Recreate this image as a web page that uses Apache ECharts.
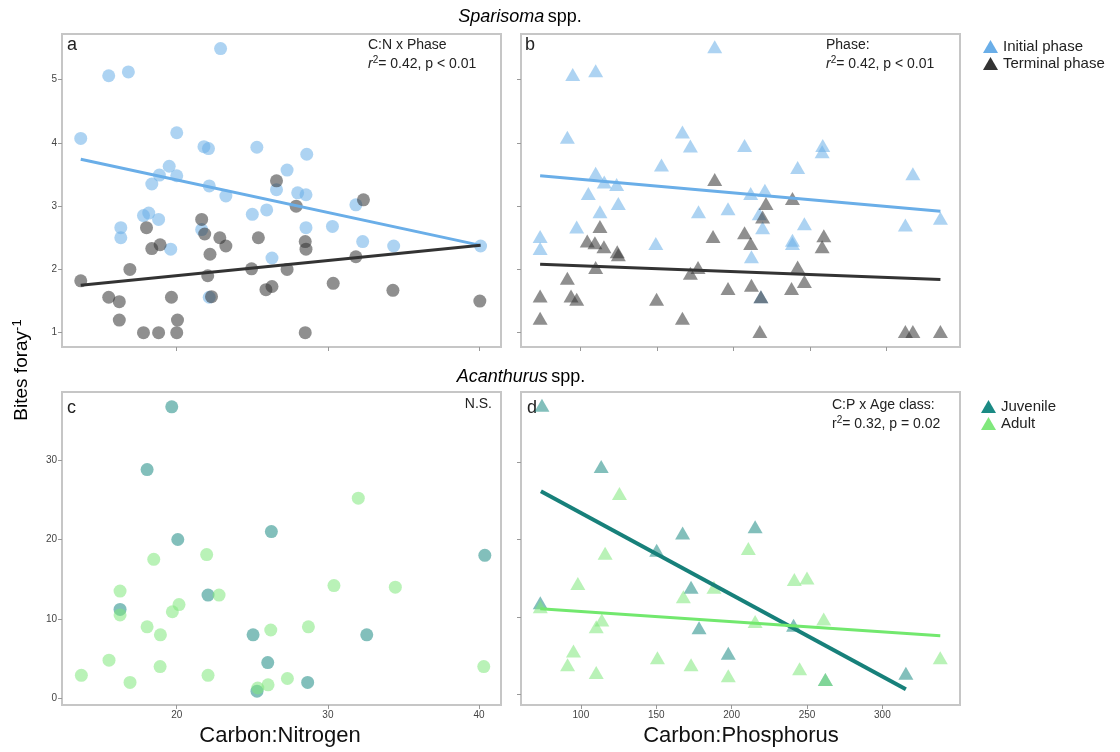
<!DOCTYPE html>
<html>
<head>
<meta charset="utf-8">
<script src="https://cdn.jsdelivr.net/npm/echarts@6/dist/echarts.min.js"></script>
<style>
html,body{margin:0;padding:0;background:#fff;}
#chart{width:1120px;height:752px;}
</style>
</head>
<body>
<div id="chart"></div>
<script>
// ---------- DATA ----------
// Panel a: Sparisoma, Carbon:Nitrogen vs bites per foray
const aInitial = [[22.9,5.49],[15.5,5.06],[16.8,5.12],[13.65,4.07],[20.0,4.16],[21.8,3.94],[22.1,3.91],[25.3,3.93],[19.5,3.63],[18.85,3.49],[20.0,3.48],[18.35,3.35],[22.15,3.32],[23.25,3.16],[17.8,2.85],[18.15,2.89],[18.8,2.79],[25.0,2.87],[25.95,2.94],[16.3,2.66],[16.3,2.5],[21.65,2.63],[19.6,2.32],[26.3,2.18],[22.15,1.56],[26.6,3.26],[27.3,3.57],[28.6,3.82],[28.0,3.21],[28.55,3.18],[28.55,2.66],[30.3,2.68],[31.85,3.02],[32.3,2.44],[34.35,2.37],[40.1,2.37]];
const aTerminal = [[13.65,1.82],[16.9,2.0],[15.5,1.56],[16.2,1.49],[16.2,1.2],[17.8,1.0],[18.8,1.0],[20.0,1.0],[20.05,1.2],[19.65,1.56],[18.0,2.66],[18.35,2.33],[18.9,2.39],[21.65,2.79],[21.85,2.56],[22.2,2.24],[22.05,1.9],[22.3,1.57],[22.85,2.5],[23.25,2.37],[24.95,2.01],[25.4,2.5],[25.9,1.68],[26.3,1.73],[26.6,3.4],[27.9,3.0],[28.5,2.44],[28.55,2.32],[27.3,2.0],[28.5,1.0],[30.35,1.78],[31.85,2.2],[32.35,3.1],[34.3,1.67],[40.05,1.5]];
const aInitialFit = [[13.65,3.74],[40.1,2.38]];
const aTerminalFit = [[13.65,1.75],[40.1,2.38]];

// Panel b: Sparisoma, Carbon:Phosphorus
const bInitial = [[187.6,5.52],[94.8,5.08],[109.8,5.14],[91.3,4.09],[166.5,4.17],[171.7,3.95],[152.8,3.65],[109.8,3.52],[115.4,3.38],[123.5,3.34],[105,3.2],[124.6,3.04],[112.6,2.91],[97.4,2.67],[73.5,2.52],[73.5,2.33],[149.1,2.41],[177,2.91],[196.3,2.96],[207.1,3.96],[258.2,3.96],[257.8,3.86],[241.8,3.61],[317.1,3.51],[211.1,3.2],[220.4,3.25],[216.7,2.88],[218.9,2.66],[246.2,2.72],[238.4,2.46],[238.4,2.41],[211.6,2.2],[312.2,2.7],[335.1,2.81],[217.8,1.57]];
const bTerminal = [[187.6,3.42],[112.6,2.68],[104.3,2.45],[109.3,2.42],[115.2,2.36],[123.9,2.28],[124.6,2.23],[186.5,2.52],[109.8,2.03],[91.3,1.86],[73.5,1.58],[93.7,1.58],[97.4,1.53],[149.6,1.53],[73.5,1.23],[166.5,1.23],[171.7,1.94],[176.7,2.03],[196.3,1.7],[221.1,3.04],[238.4,3.12],[218.9,2.83],[207.1,2.58],[211.1,2.41],[258.9,2.53],[257.8,2.36],[241.8,2.04],[246.2,1.81],[237.8,1.7],[211.6,1.75],[217.8,1.57],[217.1,1.02],[312.2,1.02],[317.1,1.02],[335.1,1.02]];
const bInitialFit = [[73.5,3.48],[335.1,2.92]];
const bTerminalFit = [[73.5,2.08],[335.1,1.84]];

// Panel c: Acanthurus, Carbon:Nitrogen
const cJuvenile = [[19.67,36.7],[18.04,28.8],[20.07,20.0],[26.26,21.0],[22.07,13.0],[16.25,11.2],[25.05,8.0],[26.02,4.5],[25.31,0.9],[40.38,18.0],[32.57,8.0],[28.66,2.0]];
const cAdult = [[18.48,17.5],[21.98,18.1],[16.25,13.5],[22.8,13.0],[16.25,10.5],[20.15,11.8],[19.71,10.9],[18.04,9.0],[18.92,8.0],[26.22,8.6],[15.52,4.8],[13.69,2.9],[16.91,2.0],[18.9,4.0],[22.07,2.9],[26.04,1.7],[25.36,1.3],[27.32,2.5],[32.01,25.2],[30.4,14.2],[34.46,14.0],[28.71,9.0],[40.31,4.0]];

// Panel d: Acanthurus, Carbon:Phosphorus
const dJuvenile = [[74.2,37.3],[113.5,29.4],[150.3,18.6],[167.5,20.8],[173.1,13.8],[178.4,8.6],[73.1,11.8],[197.8,5.3],[215.6,21.6],[241.1,8.9],[315.6,2.7],[262.2,1.9]];
const dAdult = [[125.6,25.9],[116.1,18.2],[98,14.3],[168,12.6],[188.3,13.8],[73.1,11.3],[113.9,9.6],[110.2,8.7],[95.1,5.6],[91.2,3.8],[110.2,2.8],[150.8,4.7],[173.1,3.8],[197.8,2.4],[211.1,18.8],[241.6,14.8],[250,15.0],[261.1,9.7],[215.6,9.4],[245.1,3.3],[262.2,1.9],[338.4,4.7]];
const dJuvenileFit = [[73.5,26.2],[315.6,0.64]];
const dAdultFit = [[73.1,11.03],[338.4,7.56]];

// Tick values
const cnTicks = [20,30,40];
const cpTicks = [100,150,200,250,300];
const spTicks = [1,2,3,4,5];
const acTicks = [0,10,20,30];

// ---------- STYLE ----------
const FONT = '"Liberation Sans", Arial, sans-serif';
const C_INIT = '#6aaee8', C_TERM = '#333333', C_JUV = '#1b8a84', C_AD = '#80e87c';
const PT_OP = 0.55;

function xAx(grid, min, max, ticks, labels) {
  return {
    type:'value', gridIndex:grid, min:min, max:max,
    axisLine:{show:false, onZero:false},
    splitLine:{show:false},
    axisTick:{show:true, customValues:ticks, length:4, lineStyle:{color:'#999', width:1}},
    axisLabel:{show:labels, customValues:ticks, fontSize:10, color:'#444', fontFamily:FONT, margin:5}
  };
}
function yAx(grid, min, max, ticks, labels) {
  return {
    type:'value', gridIndex:grid, min:min, max:max,
    axisLine:{show:false, onZero:false},
    splitLine:{show:false},
    axisTick:{show:true, customValues:ticks, length:4, lineStyle:{color:'#999', width:1}},
    axisLabel:{show:labels, customValues:ticks, fontSize:10, color:'#444', fontFamily:FONT, margin:5}
  };
}
function scat(name, data, gi, symbol, color, size) {
  return {
    type:'scatter', name:name, data:data, xAxisIndex:gi, yAxisIndex:gi,
    symbol:symbol, symbolSize:size,
    itemStyle:{color:color, opacity:PT_OP}, emphasis:{disabled:true}, z:2
  };
}
function fit(name, data, gi, color, w) {
  return {
    type:'line', name:name, data:data, xAxisIndex:gi, yAxisIndex:gi,
    showSymbol:false, symbol:'none', lineStyle:{color:color, width:w},
    itemStyle:{color:color}, emphasis:{disabled:true}, z:3, silent:true
  };
}
const gridStyle = {show:true, borderColor:'#c6c6c6', borderWidth:2, containLabel:false};

const rich = {
  n:{fontSize:14, fontFamily:FONT, color:'#222', lineHeight:18},
  i:{fontSize:14, fontFamily:FONT, color:'#222', fontStyle:'italic', lineHeight:18},
  s:{fontSize:10, fontFamily:FONT, color:'#222', verticalAlign:'top', lineHeight:18, padding:[0,0,6,0]}
};
function label(x, y, text, size, align) {
  return {type:'text', x:x, y:y, style:{text:text, fontSize:size||14, fontFamily:FONT, fill:'#222', align:align||'left', verticalAlign:'middle', rich:rich}};
}

const option = {
  animation:false,
  backgroundColor:'#fff',
  grid:[
    Object.assign({left:62, top:34, width:439, height:313}, gridStyle),
    Object.assign({left:521, top:34, width:439, height:313}, gridStyle),
    Object.assign({left:62, top:392, width:439, height:313}, gridStyle),
    Object.assign({left:521, top:392, width:439, height:313}, gridStyle)
  ],
  xAxis:[
    xAx(0, 12.41, 41.45, cnTicks, false),
    xAx(1, 61.0, 347.9, cpTicks, false),
    xAx(2, 12.41, 41.45, cnTicks, true),
    xAx(3, 60.3, 351.5, cpTicks, true)
  ],
  yAxis:[
    yAx(0, 0.774, 5.72, spTicks, true),
    yAx(1, 0.774, 5.72, spTicks, false),
    yAx(2, -0.84, 38.57, acTicks, true),
    yAx(3, -1.38, 39.0, acTicks, false)
  ],
  legend:[
    {orient:'vertical', left:978, top:34, itemWidth:15, itemHeight:13, itemGap:2,
     textStyle:{fontSize:15, color:'#222', fontFamily:FONT},
     data:[{name:'Initial phase', icon:'triangle', itemStyle:{color:C_INIT, opacity:1}},
           {name:'Terminal phase', icon:'triangle', itemStyle:{color:C_TERM, opacity:1}}]},
    {orient:'vertical', left:976, top:394, itemWidth:15, itemHeight:13, itemGap:2,
     textStyle:{fontSize:15, color:'#222', fontFamily:FONT},
     data:[{name:'Juvenile', icon:'triangle', itemStyle:{color:C_JUV, opacity:1}},
           {name:'Adult', icon:'triangle', itemStyle:{color:C_AD, opacity:1}}]}
  ],
  series:[
    scat('Initial phase', aInitial, 0, 'circle', C_INIT, 13),
    scat('Terminal phase', aTerminal, 0, 'circle', C_TERM, 13),
    fit('Initial phase', aInitialFit, 0, C_INIT, 3),
    fit('Terminal phase', aTerminalFit, 0, C_TERM, 3),
    scat('Initial phase', bInitial, 1, 'triangle', C_INIT, [15,13]),
    scat('Terminal phase', bTerminal, 1, 'triangle', C_TERM, [15,13]),
    fit('Initial phase', bInitialFit, 1, C_INIT, 3),
    fit('Terminal phase', bTerminalFit, 1, C_TERM, 3),
    scat('Juvenile', cJuvenile, 2, 'circle', C_JUV, 13),
    scat('Adult', cAdult, 2, 'circle', C_AD, 13),
    scat('Juvenile', dJuvenile, 3, 'triangle', C_JUV, [15,13]),
    scat('Adult', dAdult, 3, 'triangle', C_AD, [15,13]),
    fit('Juvenile', dJuvenileFit, 3, '#17807a', 4),
    fit('Adult', dAdultFit, 3, '#72e86e', 3)
  ],
  graphic:[
    {type:'text', x:520, y:17, style:{text:'{i|Sparisoma} {n|spp.}', align:'center', verticalAlign:'middle',
      rich:{i:{fontSize:18, fontStyle:'italic', fontFamily:FONT, color:'#111'}, n:{fontSize:18, fontFamily:FONT, color:'#111'}}}},
    {type:'text', x:521, y:377, style:{text:'{i|Acanthurus} {n|spp.}', align:'center', verticalAlign:'middle',
      rich:{i:{fontSize:18, fontStyle:'italic', fontFamily:FONT, color:'#111'}, n:{fontSize:18, fontFamily:FONT, color:'#111'}}}},
    {type:'text', x:22, y:370, rotation:Math.PI/2, style:{text:'{n|Bites foray}{s|-1}', align:'center', verticalAlign:'middle',
      rich:{n:{fontSize:19, fontFamily:FONT, color:'#111', lineHeight:22}, s:{fontSize:13, fontFamily:FONT, color:'#111', verticalAlign:'top', lineHeight:22, padding:[0,0,8,0]}}}},
    {type:'text', x:280, y:736, style:{text:'Carbon:Nitrogen', fontSize:22, fontFamily:FONT, fill:'#111', align:'center', verticalAlign:'middle'}},
    {type:'text', x:741, y:736, style:{text:'Carbon:Phosphorus', fontSize:22, fontFamily:FONT, fill:'#111', align:'center', verticalAlign:'middle'}},
    label(67, 45, 'a', 18),
    label(525, 45, 'b', 18),
    label(67, 408, 'c', 18),
    label(527, 408, 'd', 18),
    label(368, 45, '{n|C:N x Phase}'),
    label(368, 64, '{i|r}{s|2}{n|= 0.42, p < 0.01}'),
    label(826, 45, '{n|Phase:}'),
    label(826, 64, '{i|r}{s|2}{n|= 0.42, p < 0.01}'),
    label(492, 404, '{n|N.S.}', 14, 'right'),
    label(832, 405, '{n|C:P x Age class:}'),
    label(832, 424, '{n|r}{s|2}{n|= 0.32, p = 0.02}')
  ]
};

const chart = echarts.init(document.getElementById('chart'), null, {renderer:'canvas'});
chart.setOption(option);
</script>
</body>
</html>
